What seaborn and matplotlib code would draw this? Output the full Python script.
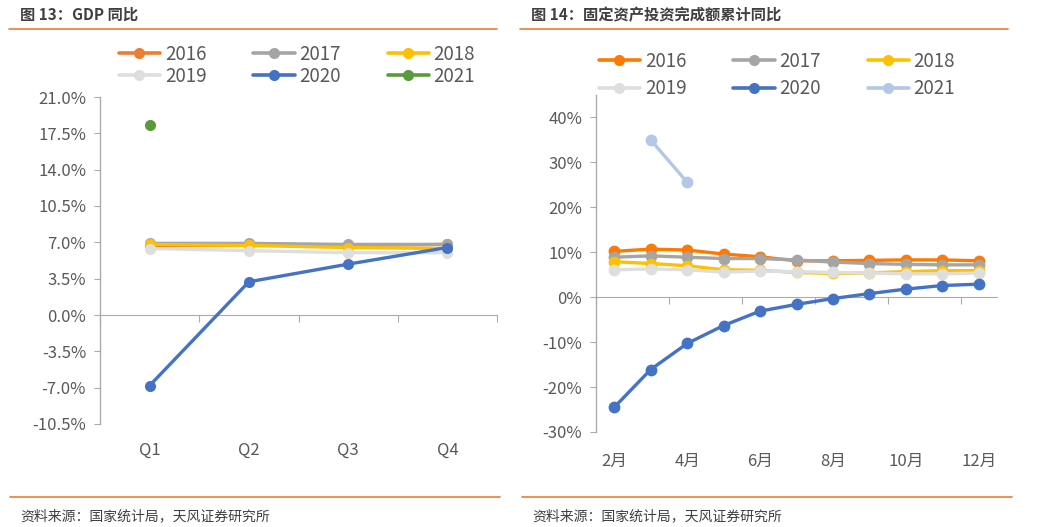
import numpy as np
import pandas as pd
import matplotlib
matplotlib.use('Agg')
import matplotlib.pyplot as plt
import seaborn as sns
from matplotlib.lines import Line2D
from matplotlib.ticker import FuncFormatter

sns.set_style('ticks')
plt.rcParams['font.family'] = ['Noto Sans CJK SC', 'DejaVu Sans']
plt.rcParams['axes.unicode_minus'] = False

# ---------------- data ----------------
years = ['2016', '2017', '2018', '2019', '2020', '2021']

quarters = ['Q1', 'Q2', 'Q3', 'Q4']
gdp_2016 = [6.7, 6.7, 6.7, 6.8]
gdp_2017 = [6.9, 6.9, 6.8, 6.8]
gdp_2018 = [6.8, 6.7, 6.5, 6.4]
gdp_2019 = [6.4, 6.2, 6.0, 6.0]
gdp_2020 = [-6.8, 3.2, 4.9, 6.5]
gdp_2021 = [18.3, np.nan, np.nan, np.nan]

months = ['2月', '3月', '4月', '5月', '6月', '7月', '8月', '9月', '10月', '11月', '12月']
fai_2016 = [10.2, 10.7, 10.5, 9.6, 9.0, 8.1, 8.1, 8.2, 8.3, 8.3, 8.1]
fai_2017 = [8.9, 9.2, 8.9, 8.6, 8.6, 8.3, 7.8, 7.5, 7.3, 7.2, 7.2]
fai_2018 = [7.9, 7.5, 7.0, 6.1, 6.0, 5.5, 5.3, 5.4, 5.7, 5.9, 5.9]
fai_2019 = [6.1, 6.3, 6.1, 5.6, 5.8, 5.7, 5.5, 5.4, 5.2, 5.2, 5.4]
fai_2020 = [-24.5, -16.1, -10.3, -6.3, -3.1, -1.6, -0.3, 0.8, 1.8, 2.6, 2.9]
fai_2021 = [np.nan, 35.0, 25.6, np.nan, np.nan, np.nan, np.nan, np.nan, np.nan, np.nan, np.nan]

gdp_series = dict(zip(years, [gdp_2016, gdp_2017, gdp_2018, gdp_2019, gdp_2020, gdp_2021]))
fai_series = dict(zip(years, [fai_2016, fai_2017, fai_2018, fai_2019, fai_2020, fai_2021]))

left_colors = dict(zip(years, ['#ED7D31', '#A5A5A5', '#FFC000', '#DEDEDE', '#4472C4', '#5B9A3A']))
right_colors = dict(zip(years, ['#FF7800', '#A5A5A5', '#FFC000', '#DEDEDE', '#4472C4', '#B4C7E7']))

title_left = '图 13：GDP 同比'
title_right = '图 14：固定资产投资完成额累计同比'
source_text = '资料来源：国家统计局，天风证券研究所'

# ---------------- figure ----------------
W, H = 1039, 527
fig = plt.figure(figsize=(W / 100, H / 100), dpi=100)


def fx(px):
    return px / W


def fy(py):
    return 1 - py / H


ax1 = fig.add_axes([fx(100), fy(424), fx(497) - fx(100), fy(97) - fy(424)])
ax2 = fig.add_axes([fx(596), fy(432), fx(997) - fx(596), fy(95) - fy(432)])

AXCOL = '#ABABAB'
TXT = '#595959'


def draw(ax, cats, series, colors, lw, ms):
    pos = np.arange(len(cats))
    for yr in years:
        d = pd.DataFrame({'x': pos, 'y': series[yr]}).dropna()
        sns.lineplot(data=d, x='x', y='y', ax=ax, color=colors[yr], lw=lw,
                     marker='o', markersize=ms, markeredgewidth=0,
                     estimator=None, errorbar=None, legend=False)
    ax.set_xlim(-0.5, len(cats) - 0.5)
    ax.set_xlabel('')
    ax.set_ylabel('')
    for s in ['top', 'right', 'bottom']:
        ax.spines[s].set_visible(False)
    ax.spines['left'].set_color(AXCOL)
    ax.spines['left'].set_linewidth(1)
    ax.tick_params(axis='y', direction='out', length=4, color=AXCOL,
                   labelsize=12, labelcolor=TXT, pad=6)


# left chart
draw(ax1, quarters, gdp_series, left_colors, 2.4, 8)
ax1.set_ylim(-10.5, 21.0)
ax1.set_yticks(np.arange(-10.5, 21.01, 3.5))
ax1.yaxis.set_major_formatter(FuncFormatter(lambda v, p: f'{v:.1f}%'))
ax1.set_xticks(np.arange(len(quarters)))
ax1.set_xticklabels(quarters)
ax1.tick_params(axis='x', length=0, labelsize=12, labelcolor=TXT, pad=13)
ymin, ymax = ax1.get_ylim()
sec1 = ax1.secondary_xaxis((0 - ymin) / (ymax - ymin))
sec1.set_xticks(np.arange(-0.5, len(quarters), 1.0))
sec1.tick_params(axis='x', length=5, color=AXCOL, labelbottom=False, labeltop=False)
for s in sec1.spines.values():
    s.set_color(AXCOL)

# right chart
draw(ax2, months, fai_series, right_colors, 2.4, 8.5)
ax2.set_ylim(-30, 45)
ax2.set_yticks(np.arange(-30, 40.1, 10))
ax2.yaxis.set_major_formatter(FuncFormatter(lambda v, p: f'{v:.0f}%'))
ax2.set_xticks(np.arange(0, len(months), 2))
ax2.set_xticklabels(months[::2])
ax2.tick_params(axis='x', length=0, labelsize=12, labelcolor=TXT, pad=15)
ymin, ymax = ax2.get_ylim()
sec2 = ax2.secondary_xaxis((0 - ymin) / (ymax - ymin))
sec2.set_xticks(np.arange(-0.5, len(months), 2.0))
sec2.tick_params(axis='x', length=5, color=AXCOL, labelbottom=False, labeltop=False)
for s in sec2.spines.values():
    s.set_color(AXCOL)


# legends
def make_legend(colors, center, labelspacing):
    handles = [Line2D([], [], color=colors[y], lw=2.6, marker='o', markersize=8,
                      markeredgewidth=0) for y in years]
    order = [0, 3, 1, 4, 2, 5]
    leg = fig.legend([handles[i] for i in order], [years[i] for i in order],
                     ncol=3, loc='center', bbox_to_anchor=center, frameon=False,
                     fontsize=13.5, handlelength=2.2, handletextpad=0.25,
                     columnspacing=2.5, labelspacing=labelspacing,
                     borderpad=0, borderaxespad=0)
    for t in leg.get_texts():
        t.set_color(TXT)
    return leg


make_legend(left_colors, (fx(297), fy(65.5)), 0.05)
make_legend(right_colors, (fx(777), fy(75)), 0.35)

# titles and decoration
fig.text(fx(20), fy(15), title_left, fontsize=11, fontweight='bold', color='#404040', va='center')
fig.text(fx(531), fy(15), title_right, fontsize=11, fontweight='bold', color='#404040', va='center')
ORG = '#ED7D31'
for (x0, x1, yy) in [(9, 497, 29), (520, 1008, 29), (10, 500, 497), (522, 1012, 497)]:
    fig.add_artist(Line2D([fx(x0), fx(x1)], [fy(yy), fy(yy)], transform=fig.transFigure,
                          color=ORG, lw=1.2))
fig.text(fx(20), fy(516), source_text, fontsize=10, color='#404040', va='center')
fig.text(fx(532), fy(516), source_text, fontsize=10, color='#404040', va='center')

fig.savefig('out.png', dpi=100)
